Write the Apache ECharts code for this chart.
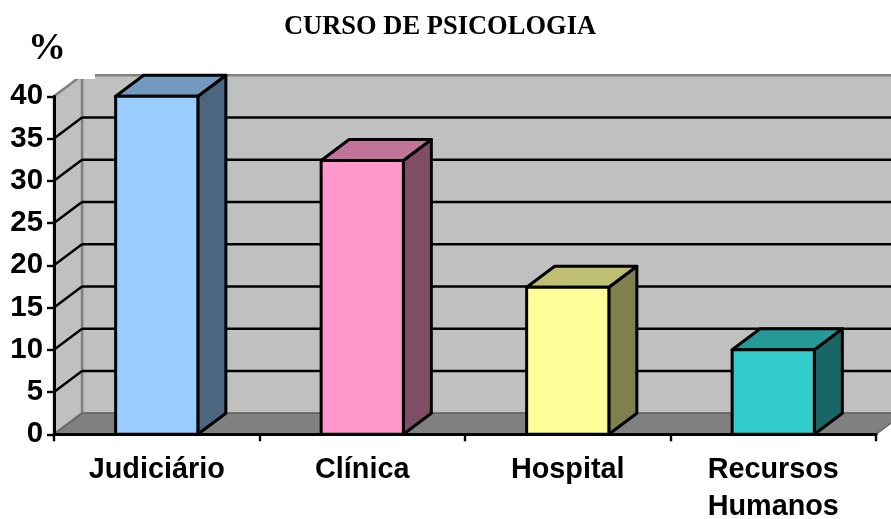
<!DOCTYPE html>
<html>
<head>
<meta charset="utf-8">
<style>
  html, body { margin: 0; padding: 0; background: #fff; }
  #main { width: 891px; height: 519px; }
</style>
<script src="https://cdn.jsdelivr.net/npm/echarts@6/dist/echarts.min.js"></script>
</head>
<body>
<div id="main"></div>
<script>
  const categorias = ['Judiciário', 'Clínica', 'Hospital', 'Recursos\nHumanos'];
  const valores = [40, 32.4, 17.4, 10];
  const linhasGrade = [5, 10, 15, 20, 25, 30, 35];

  const coresFrente = ['#99CCFF', '#FF99CC', '#FFFF99', '#33CCCC'];
  const coresTopo = ['#7399BF', '#BF7399', '#BFBF73', '#269999'];
  const coresLado = ['#4D6680', '#804D66', '#80804D', '#1A6666'];

  // deslocamento da profundidade do "3D"
  const dx = 28;
  const dy = -21;

  const myChart = echarts.init(document.getElementById('main'));

  function paredes(params, api) {
    const c = params.coordSys;
    const x0 = c.x, x1 = c.x + c.width, yT = c.y, yB = c.y + c.height;
    return {
      type: 'group',
      children: [
        { // parede do fundo
          type: 'polygon',
          shape: { points: [[x0 + dx, yT + dy], [x1 + dx, yT + dy], [x1 + dx, yB + dy], [x0 + dx, yB + dy]] },
          style: { fill: '#C0C0C0', stroke: '#808080', lineWidth: 2.5 }
        },
        { // parede lateral
          type: 'polygon',
          shape: { points: [[x0, yT], [x0 + dx, yT + dy], [x0 + dx, yB + dy], [x0, yB]] },
          style: { fill: '#C0C0C0', stroke: '#808080', lineWidth: 2.5 }
        },
        { // piso
          type: 'polygon',
          shape: { points: [[x0, yB], [x0 + dx, yB + dy], [x1 + dx, yB + dy], [x1, yB]] },
          style: { fill: '#808080', stroke: '#666666', lineWidth: 1.5 }
        }
      ]
    };
  }

  function grade(params, api) {
    const c = params.coordSys;
    const y = api.coord([0, api.value(1)])[1];
    const st = { stroke: '#000', lineWidth: 2.4, fill: null };
    return {
      type: 'group',
      children: [
        { type: 'line', shape: { x1: c.x, y1: y, x2: c.x + dx, y2: y + dy }, style: st },
        { type: 'line', shape: { x1: c.x + dx, y1: y + dy, x2: c.x + c.width + dx, y2: y + dy }, style: st }
      ]
    };
  }

  function barra3d(params, api) {
    const i = api.value(0);
    const topo = api.coord([i, api.value(1)]);
    const base = api.coord([i, 0]);
    const w = api.size([1, 0])[0] / 2.5;
    const l = topo[0] - w / 2, r = topo[0] + w / 2;
    const yT = topo[1], yB = base[1];
    const borda = { stroke: '#000', lineWidth: 3, lineJoin: 'round' };
    return {
      type: 'group',
      children: [
        {
          type: 'polygon',
          shape: { points: [[r, yT], [r + dx, yT + dy], [r + dx, yB + dy], [r, yB]] },
          style: Object.assign({ fill: coresLado[i] }, borda)
        },
        {
          type: 'polygon',
          shape: { points: [[l, yT], [l + dx, yT + dy], [r + dx, yT + dy], [r, yT]] },
          style: Object.assign({ fill: coresTopo[i] }, borda)
        },
        {
          type: 'polygon',
          shape: { points: [[l, yT], [r, yT], [r, yB], [l, yB]] },
          style: Object.assign({ fill: coresFrente[i] }, borda)
        }
      ]
    };
  }

  const option = {
    animation: false,
    backgroundColor: '#fff',
    title: [
      {
        text: 'CURSO DE PSICOLOGIA',
        left: 435,
        top: 9,
        textAlign: 'center',
        textStyle: { fontFamily: 'Liberation Serif', fontWeight: 'bold', fontSize: 26.5, color: '#000' }
      },
      {
        text: '%',
        left: 42,
        top: 25,
        textAlign: 'center',
        z: 60,
        textStyle: { fontFamily: 'Liberation Serif', fontWeight: 'bold', fontSize: 38, color: '#000' }
      }
    ],
    graphic: [
      // caixa branca do "%" por cima da parede
      { type: 'rect', z: 50, shape: { x: 0, y: 30, width: 95, height: 49 }, style: { fill: '#fff' } }
    ],
    grid: { left: 54, right: 15, top: 96.3, bottom: 84.7, outerBoundsMode: 'none' },
    xAxis: {
      type: 'category',
      data: categorias,
      z: 10,
      axisLine: { show: true, lineStyle: { color: '#000', width: 3 } },
      axisTick: { show: true, alignWithLabel: false, length: 7, lineStyle: { color: '#000', width: 2.4 } },
      axisLabel: {
        margin: 17,
        interval: 0,
        fontFamily: 'Liberation Sans',
        fontWeight: 'bold',
        fontSize: 28.8,
        lineHeight: 37,
        color: '#000'
      }
    },
    yAxis: {
      type: 'value',
      min: 0,
      max: 40,
      interval: 5,
      z: 10,
      axisLine: { show: true, lineStyle: { color: '#000', width: 3 } },
      axisTick: { show: true, length: 7, lineStyle: { color: '#000', width: 2.4 } },
      splitLine: { show: false },
      axisLabel: {
        margin: 11,
        padding: [2, 0, 0, 0],
        fontFamily: 'Liberation Sans',
        fontWeight: 'bold',
        fontSize: 29.4,
        color: '#000'
      }
    },
    series: [
      { type: 'custom', z: 1, silent: true, renderItem: paredes, data: [0] },
      { type: 'custom', z: 2, silent: true, renderItem: grade, data: linhasGrade.map(v => [0, v]) },
      {
        type: 'custom',
        z: 3,
        renderItem: barra3d,
        encode: { x: 0, y: 1 },
        data: valores.map((v, i) => [i, v])
      }
    ]
  };

  myChart.setOption(option);
</script>
</body>
</html>
